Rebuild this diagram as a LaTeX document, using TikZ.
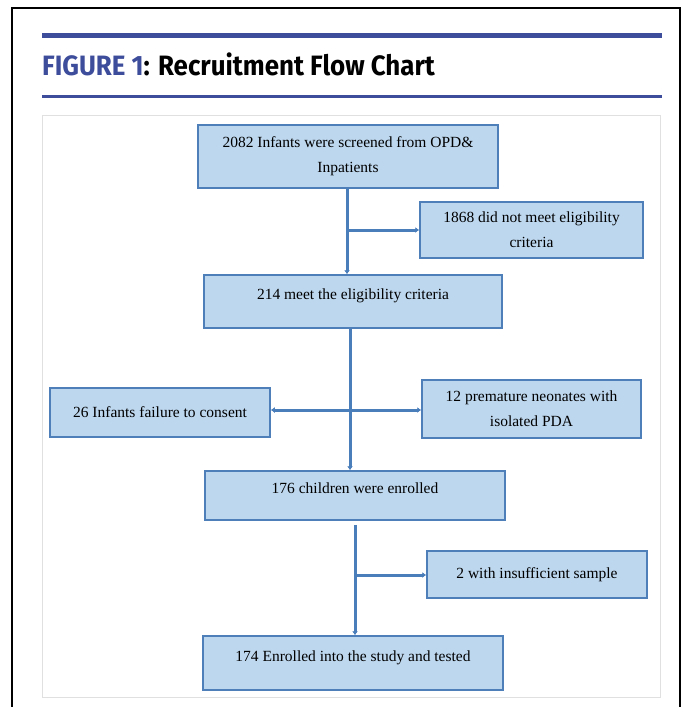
\documentclass[tikz,border=0pt]{standalone}
\usepackage{fontspec}
\setmainfont{Liberation Serif}
\newfontfamily\titrefont{Fira Sans}
\usetikzlibrary{arrows.meta}
\definecolor{bleutitre}{HTML}{3D4C9B}
\definecolor{remplissage}{HTML}{BDD7EE}
\definecolor{bord}{HTML}{4F7FB9}
\definecolor{trait}{HTML}{4A7EBB}
\tikzset{
	boite/.style={draw=bord, line width=1.5pt, fill=remplissage, align=center, inner sep=0pt,
		font=\fontsize{15.5}{25}\selectfont},
	haut/.style={text depth=14pt},
	fleche/.style={draw=trait, line width=3pt, -{Latex[length=4pt,width=6pt]}},
	regle/.style={draw=bleutitre},
}
\begin{document}
\begin{tikzpicture}[x=1pt, y=-1pt]
		\useasboundingbox (0,0) rectangle (685,707);
		%Cadre et titre
		\draw[line width=2pt] (12,707) -- (12,8) -- (680,8) -- (680,707);
		\draw[regle, line width=5pt] (42,35) -- (662,35);
		\draw[regle, line width=3pt] (42,96) -- (662,96);
		\node[anchor=base west, inner sep=0pt] (titre) at (42,75)
			{\titrefont\bfseries\fontsize{28}{28}\selectfont\scalebox{0.925}[1]{\textcolor{bleutitre}{FIGURE 1}: Recruitment Flow Chart}};
		\draw[black!12] (42,115) rectangle (660,697);
		%Noeuds du diagramme
		\node[boite, minimum width=300pt, minimum height=63pt] (N2082) at (348,156.5) {2082 Infants were screened from OPD\&\\Inpatients};
		\node[boite, minimum width=223pt, minimum height=56pt] (N1868) at (531.5,230) {1868 did not meet eligibility\\criteria};
		\node[boite, haut, minimum width=298pt, minimum height=53pt] (N214) at (353,301.5) {214 meet the eligibility criteria};
		\node[boite, minimum width=220pt, minimum height=49pt] (N26) at (160,412.5) {26 Infants failure to consent};
		\node[boite, minimum width=219pt, minimum height=58pt] (N12) at (531.5,409) {12 premature neonates with\\isolated PDA};
		\node[boite, haut, minimum width=300pt, minimum height=49pt] (N176) at (355,495.5) {176 children were enrolled};
		\node[boite, minimum width=220pt, minimum height=47pt] (N2) at (537,574.5) {2 with insufficient sample};
		\node[boite, haut, minimum width=300pt, minimum height=54pt] (N174) at (353,663) {174 Enrolled into the study and tested};
		%Points de branchement
		\coordinate (B1) at (347,230);
		\coordinate (B2) at (350,410);
		\coordinate (B3) at (355,575);
		%Aretes du diagramme
		\draw[fleche] (N2082.south -| B1) -- (N214.north -| B1);
		\draw[fleche] (B1) -- (B1 -| N1868.west);
		\draw[fleche] (N214.south -| B2) -- (N176.north -| B2);
		\draw[fleche] (B2) -- (B2 -| N26.east);
		\draw[fleche] (B2) -- (B2 -| N12.west);
		\draw[fleche, shorten <=4pt] (N176.south -| B3) -- (N174.north -| B3);
		\draw[fleche] (B3) -- (B3 -| N2.west);
\end{tikzpicture}
\end{document}
